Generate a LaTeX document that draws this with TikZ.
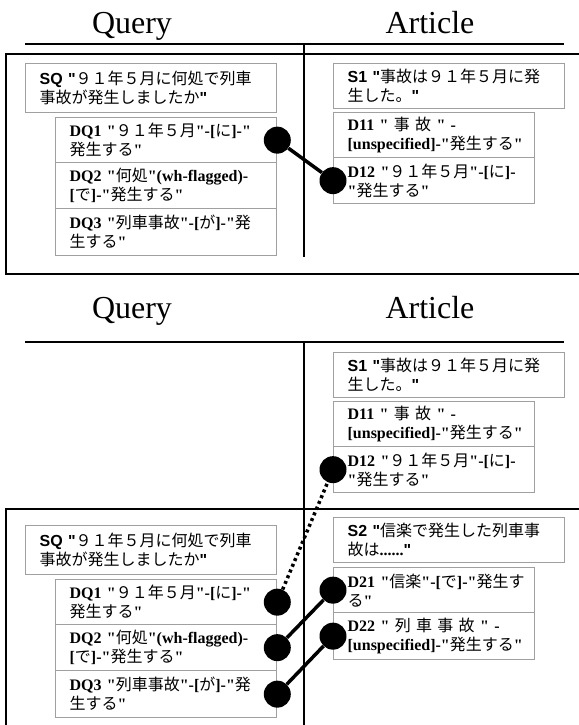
\documentclass[tikz,border=0pt]{standalone}
\usepackage{fontspec}
\setmainfont{Liberation Serif}[Ligatures=TeXOff]
\setsansfont{Liberation Sans}[Ligatures=TeXOff]
\newfontfamily\JPfont{Noto Sans CJK JP}[Ligatures=TeXOff]
\newcommand\JP[1]{{\JPfont\mdseries #1}}
\newcommand\TB[1]{{\rmfamily\bfseries #1}}
\newcommand\SB[1]{{\sffamily\bfseries #1}}
\definecolor{boxgray}{HTML}{A0A0A0}
\begin{document}
\begin{tikzpicture}[x=1pt,y=-1pt,
  title/.style={font=\fontsize{32}{36}\selectfont, anchor=base, inner sep=0pt},
  bx/.style={draw=boxgray, line width=1.3pt, fill=white, anchor=north west,
    inner xsep=14pt, inner ysep=0pt, align=left,
    font=\fontsize{16}{19}\selectfont},
  sbox/.style={bx, text width=#1},
  frame/.style={line width=2pt, black},
  divider/.style={line width=1.3pt, black},
  dotc/.style={circle, fill=black, minimum size=27pt, inner sep=0pt},
  link/.style={line width=3.5pt, black},
  dotlink/.style={line width=3.5pt, black, dash pattern=on 3pt off 3.2pt}]
\useasboundingbox (0,0) rectangle (578,725);
\fill[white] (0,0) rectangle (578,725);

% ===== top panel =====
\node[title] (qt1) at (132,34) {Query};
\node[title] (at1) at (430,34) {Article};
\coordinate (h1l) at (25,44);
\coordinate (h1r) at (564,44);
\draw[frame] (h1l) -- (h1r);
\coordinate (v1t) at (304,44);
\coordinate (v1b) at (304,257);
\draw[divider] (v1t) -- (v1b);
\coordinate (f1a) at (582,54);
\coordinate (f1b) at (6,54);
\coordinate (f1c) at (6,274);
\coordinate (f1d) at (582,274);
\draw[frame] (f1a) -- (f1b) -- (f1c) -- (f1d);

\node[sbox=223pt, minimum height=49pt] (sq1) at (25,63)
  {\mbox{\SB{SQ}~\SB{"}\JP{９１年５月に何処で列車}}\\\mbox{\JP{事故が発生しましたか}\SB{"}}};
\node[sbox=193pt, minimum height=45pt] (dq11) at (55,117)
  {\mbox{\TB{DQ1}~\TB{"}\JP{９１年５月}\TB{"-[}\JP{に}\TB{]-"}}\\\mbox{\JP{発生する}\TB{"}}};
\node[sbox=193pt, minimum height=46pt] (dq21) at (55,162)
  {\mbox{\TB{DQ2}~\TB{"}\JP{何処}\TB{"(wh-flagged)-}}\\\mbox{\TB{[}\JP{で}\TB{]-"}\JP{発生する}\TB{"}}};
\node[sbox=193pt, minimum height=47pt] (dq31) at (55,208)
  {\mbox{\TB{DQ3}~\TB{"}\JP{列車事故}\TB{"-[}\JP{が}\TB{]-"}\JP{発}}\\\mbox{\JP{生する}\TB{"}}};

\node[sbox=203pt, minimum height=45pt] (s11) at (333,63)
  {\mbox{\SB{S1}~\SB{"}\JP{事故は９１年５月に発}}\\\mbox{\JP{生した。}\SB{"}}};
\node[sbox=173pt, minimum height=45pt] (d111) at (333,112)
  {\makebox[\linewidth][s]{\TB{D11} \TB{"} \JP{事} \JP{故} \TB{"} \TB{-}}\\\mbox{\TB{[unspecified]-"}\JP{発生する}\TB{"}}};
\node[sbox=173pt, minimum height=46pt] (d121) at (333,157)
  {\mbox{\TB{D12}~\TB{"}\JP{９１年５月}\TB{"-[}\JP{に}\TB{]-}}\\\mbox{\TB{"}\JP{発生する}\TB{"}}};

\node[dotc] (cq1) at (dq11.east) {};
\node[dotc] (cd12) at (d121.west) {};
\draw[link] (cq1) -- (cd12);

% ===== bottom panel =====
\node[title] (qt2) at (132,318) {Query};
\node[title] (at2) at (430,318) {Article};
\coordinate (h2l) at (25,342);
\coordinate (h2r) at (564,342);
\draw[frame] (h2l) -- (h2r);
\coordinate (v2t) at (304,342);
\coordinate (v2b) at (304,728);
\draw[divider] (v2t) -- (v2b);
\coordinate (f2a) at (582,509);
\coordinate (f2b) at (6,509);
\coordinate (f2c) at (6,730);
\draw[frame] (f2a) -- (f2b) -- (f2c);

\node[sbox=203pt, minimum height=45pt] (s12) at (333,352)
  {\mbox{\SB{S1}~\SB{"}\JP{事故は９１年５月に発}}\\\mbox{\JP{生した。}\SB{"}}};
\node[sbox=173pt, minimum height=45pt] (d112) at (333,401)
  {\makebox[\linewidth][s]{\TB{D11} \TB{"} \JP{事} \JP{故} \TB{"} \TB{-}}\\\mbox{\TB{[unspecified]-"}\JP{発生する}\TB{"}}};
\node[sbox=173pt, minimum height=46pt] (d122) at (333,446)
  {\mbox{\TB{D12}~\TB{"}\JP{９１年５月}\TB{"-[}\JP{に}\TB{]-}}\\\mbox{\TB{"}\JP{発生する}\TB{"}}};

\node[sbox=223pt, minimum height=49pt] (sq2) at (25,525)
  {\mbox{\SB{SQ}~\SB{"}\JP{９１年５月に何処で列車}}\\\mbox{\JP{事故が発生しましたか}\SB{"}}};
\node[sbox=193pt, minimum height=45pt] (dq12) at (55,579)
  {\mbox{\TB{DQ1}~\TB{"}\JP{９１年５月}\TB{"-[}\JP{に}\TB{]-"}}\\\mbox{\JP{発生する}\TB{"}}};
\node[sbox=193pt, minimum height=46pt] (dq22) at (55,624)
  {\mbox{\TB{DQ2}~\TB{"}\JP{何処}\TB{"(wh-flagged)-}}\\\mbox{\TB{[}\JP{で}\TB{]-"}\JP{発生する}\TB{"}}};
\node[sbox=193pt, minimum height=47pt] (dq32) at (55,670)
  {\mbox{\TB{DQ3}~\TB{"}\JP{列車事故}\TB{"-[}\JP{が}\TB{]-"}\JP{発}}\\\mbox{\JP{生する}\TB{"}}};

\node[sbox=203pt, minimum height=45pt] (s2) at (333,517)
  {\mbox{\SB{S2}~\SB{"}\JP{信楽で発生した列車事}}\\\mbox{\JP{故は}\TB{......}\SB{"}}};
\node[sbox=173pt, minimum height=45pt] (d21) at (333,567)
  {\mbox{\TB{D21}~\TB{"}\JP{信楽}\TB{"-[}\JP{で}\TB{]-"}\JP{発生す}}\\\mbox{\JP{る}\TB{"}}};
\node[sbox=173pt, minimum height=47pt] (d22) at (333,612)
  {\makebox[\linewidth][s]{\TB{D22} \TB{"} \JP{列} \JP{車} \JP{事} \JP{故} \TB{"} \TB{-}}\\\mbox{\TB{[unspecified]-"}\JP{発生する}\TB{"}}};

\node[dotc] (cq12) at (dq12.east) {};
\node[dotc] (cq22) at (dq22.east) {};
\node[dotc] (cq32) at (dq32.east) {};
\node[dotc] (cd122) at (d122.west) {};
\node[dotc] (cd21) at (d21.west) {};
\node[dotc] (cd22) at (d22.west) {};
\draw[dotlink] (cq12) -- (cd122);
\draw[link] (cq22) -- (cd21);
\draw[link] (cq32) -- (cd22);
\end{tikzpicture}
\end{document}
